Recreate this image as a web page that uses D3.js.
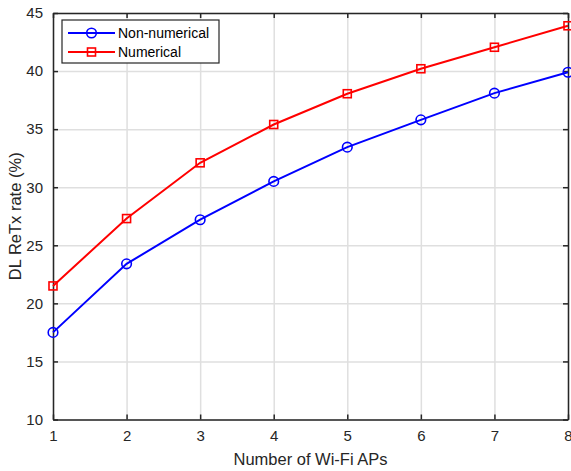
<!DOCTYPE html>
<html>
<head>
<meta charset="utf-8">
<script src="https://cdn.jsdelivr.net/npm/d3@7"></script>
<style>
  body { margin: 0; background: #fff; }
  svg { font-family: "Liberation Sans", Arial, sans-serif; }
  .grade line { stroke: #dfdfdf; stroke-width: 1.5; }
  .grade path { display: none; }
  .eixo path, .eixo line { stroke: #262626; stroke-width: 1.5; }
  .eixo text { fill: #262626; font-size: 15px; }
  .tituloeixo { fill: #262626; font-size: 16.5px; }
</style>
</head>
<body>
<svg id="grafico"></svg>
<script>
// Dados do gráfico
var numeroAPs = [1, 2, 3, 4, 5, 6, 7, 8];
var naoNumerico = [17.5, 23.4, 27.2, 30.5, 33.45, 35.8, 38.1, 39.9];
var numerico = [21.5, 27.3, 32.1, 35.4, 38.05, 40.2, 42.05, 43.9];
var ticksY = [10, 15, 20, 25, 30, 35, 40, 45];
var nomesSeries = ['Non-numerical', 'Numerical'];

var largura = 571, altura = 471;
var margem = { esquerda: 53, direita: 3, superior: 13, inferior: 51.5 };
var larguraPlotagem = largura - margem.esquerda - margem.direita;
var alturaPlotagem = altura - margem.superior - margem.inferior;

var svg = d3.select('#grafico')
            .attr('width', largura)
            .attr('height', altura);

var plotagem = svg.append('g')
                  .attr('transform', 'translate(' + margem.esquerda + ',' + margem.superior + ')');

var x = d3.scaleLinear().domain([1, 8]).range([0, larguraPlotagem]);
var y = d3.scaleLinear().domain([10, 45]).range([alturaPlotagem, 0]);

// Linhas de grade
plotagem.append('g')
        .classed('grade', true)
        .attr('transform', 'translate(0,' + alturaPlotagem + ')')
        .call(d3.axisBottom(x).tickValues(numeroAPs).tickSize(-alturaPlotagem).tickFormat(''));
plotagem.append('g')
        .classed('grade', true)
        .call(d3.axisLeft(y).tickValues(ticksY).tickSize(-larguraPlotagem).tickFormat(''));

// Eixos (estilo caixa, ticks para dentro)
plotagem.append('g')
        .classed('eixo', true)
        .attr('transform', 'translate(0,' + alturaPlotagem + ')')
        .call(d3.axisBottom(x).tickValues(numeroAPs).tickFormat(d3.format('d'))
                .tickSizeInner(-5).tickSizeOuter(0).tickPadding(11));
plotagem.append('g')
        .classed('eixo', true)
        .call(d3.axisLeft(y).tickValues(ticksY).tickFormat(d3.format('d'))
                .tickSizeInner(-5).tickSizeOuter(0).tickPadding(10));
plotagem.append('g')
        .classed('eixo', true)
        .call(d3.axisTop(x).tickValues(numeroAPs).tickSizeInner(-5).tickSizeOuter(0).tickFormat(''));
plotagem.append('g')
        .classed('eixo', true)
        .attr('transform', 'translate(' + larguraPlotagem + ',0)')
        .call(d3.axisRight(y).tickValues(ticksY).tickSizeInner(-5).tickSizeOuter(0).tickFormat(''));

// Títulos dos eixos
plotagem.append('text')
        .classed('tituloeixo', true)
        .attr('text-anchor', 'middle')
        .attr('x', larguraPlotagem / 2)
        .attr('y', alturaPlotagem + 45)
        .text('Number of Wi-Fi APs');
plotagem.append('text')
        .classed('tituloeixo', true)
        .attr('text-anchor', 'middle')
        .attr('transform', 'translate(-32,' + alturaPlotagem / 2 + ') rotate(-90)')
        .text('DL ReTx rate (%)');

// Séries
var series = [
  { nome: nomesSeries[0], valores: naoNumerico, cor: '#0000ff', marcador: 'circulo' },
  { nome: nomesSeries[1], valores: numerico, cor: '#ff0000', marcador: 'quadrado' }
];

var linha = d3.line()
              .x((d, i) => x(numeroAPs[i]))
              .y(d => y(d));

function desenheMarcador(g, tipo, cor) {
  if (tipo === 'circulo') {
    g.append('circle').attr('r', 4.8)
     .attr('fill', 'none').attr('stroke', cor).attr('stroke-width', 1.6);
  } else {
    g.append('rect').attr('x', -4).attr('y', -4).attr('width', 8).attr('height', 8)
     .attr('fill', 'none').attr('stroke', cor).attr('stroke-width', 1.6);
  }
}

series.forEach(function(s) {
  plotagem.append('path')
          .datum(s.valores)
          .attr('d', linha)
          .attr('fill', 'none')
          .attr('stroke', s.cor)
          .attr('stroke-width', 2);
  s.valores.forEach(function(v, i) {
    var g = plotagem.append('g')
                    .attr('transform', 'translate(' + x(numeroAPs[i]) + ',' + y(v) + ')');
    desenheMarcador(g, s.marcador, s.cor);
  });
});

// Legenda
var legenda = svg.append('g').attr('transform', 'translate(62,20)');
legenda.append('rect')
       .attr('width', 157).attr('height', 43)
       .attr('fill', '#fff').attr('stroke', '#262626').attr('stroke-width', 1.2);
series.forEach(function(s, i) {
  var yl = 13 + i * 19;
  legenda.append('line')
         .attr('x1', 6).attr('x2', 53).attr('y1', yl).attr('y2', yl)
         .attr('stroke', s.cor).attr('stroke-width', 2);
  var g = legenda.append('g').attr('transform', 'translate(29.5,' + yl + ')');
  desenheMarcador(g, s.marcador, s.cor);
  legenda.append('text')
         .attr('x', 56).attr('y', yl + 5)
         .attr('fill', '#000').style('font-size', '14px')
         .text(s.nome);
});
</script>
</body>
</html>
